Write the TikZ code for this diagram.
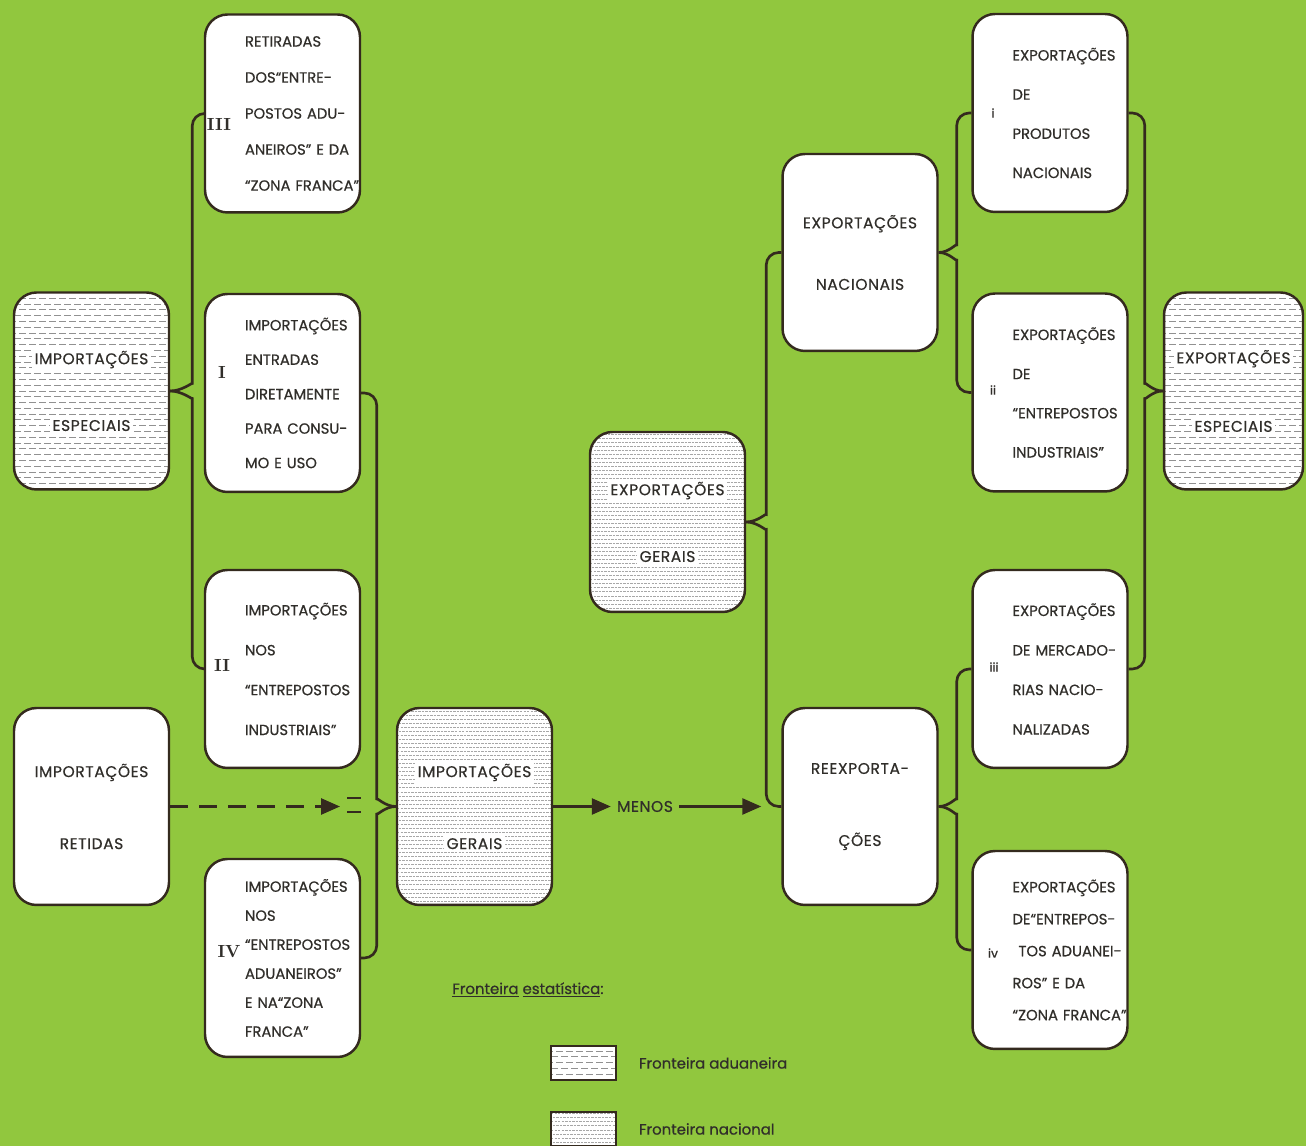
\documentclass[tikz,border=0pt]{standalone}
\usepackage{fontspec}
\newfontfamily\fut{Poppins}[LetterSpace=4,FakeBold=0.6]
\newfontfamily\futs{Poppins}[LetterSpace=0,FakeBold=0.6]
\usepackage{tikz}
\usetikzlibrary{arrows.meta,positioning,calc}

\definecolor{bgc}{RGB}{145,199,62}
\definecolor{linec}{RGB}{52,42,30}
\definecolor{txtc}{RGB}{48,46,42}
\definecolor{hatc}{RGB}{145,145,145}

\newcommand{\wt}[1]{{\setlength{\fboxsep}{1.5pt}\colorbox{white}{#1}}}

\tikzset{
  box/.style   ={rectangle, rounded corners=0.45cm, draw=linec, line width=1.4pt, fill=white,
                 minimum width=3.1cm, minimum height=3.94cm, align=center, text=txtc,
                 font=\fut\fontsize{8.8}{#1}\selectfont},
  box/.default=38,
  sub/.style   ={box, minimum height=3.96cm, text width=2.9cm, inner xsep=0.1cm, align=left,
                 font=\futs\fontsize{8.4}{#1}\selectfont,
                 execute at begin node={\leftskip=0.7cm\rightskip=-1.5cm plus 1fil}},
  sub/.default=22.5,
  adu/.style   ={path picture={
                   \foreach \k in {1,...,72}{
                     \ifodd\k \def\ph{2.8pt}\else\def\ph{0pt}\fi
                     \draw[hatc, line width=0.45pt, dash pattern=on 4pt off 1.7pt, dash phase=\ph]
                       ([yshift=\k*3.3pt]path picture bounding box.south west) -- ++(5cm,0pt);}}},
  nac/.style   ={path picture={
                   \foreach \k in {1,...,100}{
                     \ifodd\k \def\ph{1pt}\else\def\ph{0pt}\fi
                     \draw[hatc!80, line width=0.35pt, dash pattern=on 1.4pt off 0.6pt, dash phase=\ph]
                       ([yshift=\k*2.3pt]path picture bounding box.south west) -- ++(5cm,0pt);}}},
  swa/.style   ={rectangle, draw=linec, line width=0.8pt, fill=white,
                 minimum width=1.3cm, minimum height=0.68cm},
  num/.style   ={text=txtc, font=\rmfamily\bfseries\fontsize{10}{11}\selectfont, inner sep=0pt},
  rnum/.style  ={text=txtc, font=\futs\fontsize{7}{8}\selectfont, inner sep=0pt},
  brc/.style   ={draw=linec, line width=1.5pt, rounded corners=2.5mm},
  ar/.style    ={-{Triangle[length=0.38cm,width=0.32cm]}, draw=linec, line width=1.5pt},
  dar/.style   ={ar, dash pattern=on 0.36cm off 0.22cm},
  leg/.style   ={text=txtc, font=\futs\fontsize{8.5}{10}\selectfont, inner sep=0pt, anchor=west},
}

\begin{document}
\begin{tikzpicture}[x=0.02cm, y=0.02cm]
\fill[bgc] (0,0) rectangle (1306,1146);
\useasboundingbox (0,0) rectangle (1306,1146);

% importacoes
\node[box, adu] (impEsp) at (91.5,755) {\wt{IMPORTAÇÕES}\\\wt{ESPECIAIS}};
\node[box=41] (impRet) at (91.5,339.5) {IMPORTAÇÕES\\RETIDAS};
\node[box=41, nac] (impGer) at (474.5,339.5) {\wt{IMPORTAÇÕES}\\\wt{GERAIS}};

\node[sub=20.5] (boxIII) at (282.5,1032.5) {RETIRADAS\\DOS“ENTRE-\\POSTOS ADU-\\ANEIROS” E DA\\“ZONA FRANCA”};
\node[sub=19.6] (boxI) at (282.5,753) {IMPORTAÇÕES\\ENTRADAS\\DIRETAMENTE\\PARA CONSU-\\MO E USO};
\node[sub=22.7] (boxII) at (282.5,477) {IMPORTAÇÕES\\NOS\\“ENTREPOSTOS\\INDUSTRIAIS”};
\node[sub=16.5] (boxIV) at (282.5,188) {IMPORTAÇÕES\\NOS\\“ENTREPOSTOS\\ADUANEIROS”\\E NA“ZONA\\FRANCA”};

\node[num] (nIII) at (219,1022) {III};
\node[num] (nI) at (222,774) {I};
\node[num] (nII) at (222,481) {II};
\node[num] (nIV) at (229,194) {IV};

% exportacoes
\node[box, nac, minimum height=3.6cm] (expGer) at (667.5,624) {\wt{EXPORTAÇÕES}\\\wt{GERAIS}};
\node[box=35] (expNac) at (860,893.5) {EXPORTAÇÕES\\NACIONAIS};
\node[box=41] (reexp) at (860,339.5) {REEXPORTA-\\ÇÕES};
\node[box=39, adu, minimum width=2.78cm] (expEsp) at (1233.5,755) {\wt{EXPORTAÇÕES}\\\wt{ESPECIAIS}};

\node[sub=22.3] (exI) at (1050,1033) {EXPORTAÇÕES\\DE\\PRODUTOS\\NACIONAIS};
\node[sub=22.3] (exII) at (1050,753.5) {EXPORTAÇÕES\\DE\\“ENTREPOSTOS\\INDUSTRIAIS”};
\node[sub=22.5] (exIII) at (1050,477) {EXPORTAÇÕES\\DE MERCADO-\\RIAS NACIO-\\NALIZADAS};
\node[sub=18.2] (exIV) at (1050,196) {EXPORTAÇÕES\\DE“ENTREPOS-\\\hspace*{0.12cm}TOS ADUANEI-\\ROS” E DA\\“ZONA FRANCA”};

\node[rnum] (ni) at (993,1033) {i};
\node[rnum] (nii) at (993,756) {ii};
\node[rnum] (niii) at (994,479) {iii};
\node[rnum] (niv) at (993,193) {iv};

% fluxo
\node[text=txtc, font=\fut\fontsize{8.8}{10}\selectfont, inner sep=0.12cm] (menos) at (645,339.5) {MENOS};
\draw[ar] (impGer) -- (menos);
\draw[ar, shorten >=0.4cm] (menos) -- (reexp);

\coordinate (retEnd) at (340,339.5);
\draw[dar] (impRet) -- (retEnd);
\draw[brc] (347,348) -- (361,348) (347,334) -- (361,334);

% chavetas
\draw[brc] (boxIII.west) -| ($(impEsp.east)+(22,20)$) [sharp corners] to[out=-90,in=0] (impEsp.east);
\draw[brc] (boxII.west) -| ($(impEsp.east)+(22,-20)$) [sharp corners] to[out=90,in=0] (impEsp.east);
\draw[brc] (boxI.east) -| ($(impGer.west)+(-19,20)$) [sharp corners] to[out=-90,in=180] (impGer.west);
\draw[brc] (boxIV.east) -| ($(impGer.west)+(-19,-20)$) [sharp corners] to[out=90,in=180] (impGer.west);
\draw[brc] (expNac.west) -| ($(expGer.east)+(20,20)$) [sharp corners] to[out=-90,in=0] (expGer.east);
\draw[brc] (reexp.west) -| ($(expGer.east)+(20,-20)$) [sharp corners] to[out=90,in=0] (expGer.east);
\draw[brc] (exI.west) -| ($(expNac.east)+(18,20)$) [sharp corners] to[out=-90,in=0] (expNac.east);
\draw[brc] (exII.west) -| ($(expNac.east)+(18,-20)$) [sharp corners] to[out=90,in=0] (expNac.east);
\draw[brc] (exIII.west) -| ($(reexp.east)+(18,20)$) [sharp corners] to[out=-90,in=0] (reexp.east);
\draw[brc] (exIV.west) -| ($(reexp.east)+(18,-20)$) [sharp corners] to[out=90,in=0] (reexp.east);
\draw[brc] (exI.east) -| ($(expEsp.west)+(-18,20)$) [sharp corners] to[out=-90,in=180] (expEsp.west);
\draw[brc] (exIII.east) -| ($(expEsp.west)+(-18,-20)$) [sharp corners] to[out=90,in=180] (expEsp.west);

% legenda
\node[leg] (legT) at (452,156) {\underline{Fronteira} \underline{estatística}:};
\node[swa, adu] (swA) at (583.5,83) {};
\node[swa, nac] (swN) at (583.5,17) {};
\node[leg, right=0.44cm of swA] (legA) {Fronteira aduaneira};
\node[leg, right=0.44cm of swN] (legN) {Fronteira nacional};
\end{tikzpicture}
\end{document}
